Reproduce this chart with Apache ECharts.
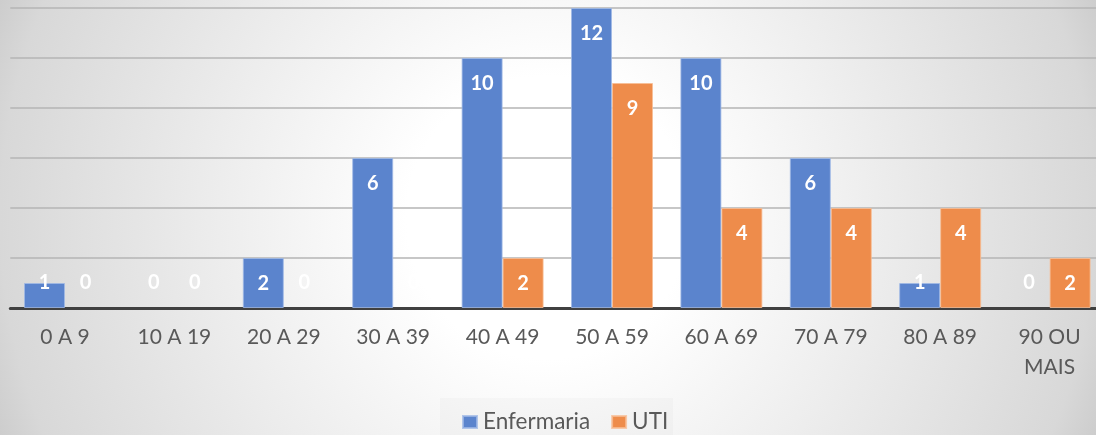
<!DOCTYPE html>
<html>
<head>
<meta charset="utf-8">
<script src="https://cdn.jsdelivr.net/npm/echarts@6/dist/echarts.min.js"></script>
<style>
html,body{margin:0;padding:0;}
#chart{width:1096px;height:435px;background:radial-gradient(circle 589px at 50% 50%, #ffffff 0%, #ffffff 24%, #d8d8d8 93%, #cdcdcd 100%);}
</style>
</head>
<body>
<div id="chart"></div>
<script>
const categories = ['0 A 9','10 A 19','20 A 29','30 A 39','40 A 49','50 A 59','60 A 69','70 A 79','80 A 89','90 OU\nMAIS'];
const enfermaria = [1,0,2,6,10,12,10,6,1,0];
const uti = [0,0,0,0,2,9,4,4,4,2];
const seriesNames = ['Enfermaria','UTI'];

function toItems(arr){
  return arr.map(v => ({
    value: v,
    itemStyle: v === 0 ? {borderWidth:0, color:'rgba(0,0,0,0)', borderColor:'rgba(0,0,0,0)'} : undefined,
    label: v >= 2 ? {position:'insideTop', distance:16} : {position:'insideBottom', distance:15}
  }));
}

const chart = echarts.init(document.getElementById('chart'), null, {renderer:'canvas'});
const labelStyle = {show:true, color:'#ffffff', fontFamily:'Lato', fontWeight:'bold', fontSize:20, lineHeight:20};
chart.setOption({
  backgroundColor:'transparent',
  animation:false,
  grid:{left:10.3, width:1094, top:8, bottom:127, containLabel:false, outerBoundsMode:'none'},
  graphic:[{type:'rect', left:440, top:398, shape:{width:233, height:40}, style:{fill:'rgba(0,0,0,0.02)'}, z:-1}],
  legend:{
    data:seriesNames, left:462, top:410, itemWidth:14, itemHeight:12, itemGap:21, padding:0,
    icon:'rect',
    textStyle:{fontFamily:'Lato', fontSize:22.5, color:'#595959', lineHeight:24, padding:[0,0,0,1]}
  },
  xAxis:{
    type:'category', data:categories,
    axisLine:{lineStyle:{color:'#404040', width:3}},
    axisTick:{show:false},
    axisLabel:{fontFamily:'Lato', fontSize:21, color:'#595959', lineHeight:30, margin:14, interval:0}
  },
  yAxis:{
    type:'value', min:0, max:12, interval:2,
    axisLabel:{show:false}, axisLine:{show:false}, axisTick:{show:false},
    splitLine:{lineStyle:{color:'#b4b4b4', width:1.5}}
  },
  series:[
    {name:seriesNames[0], type:'bar', data:toItems(enfermaria), barWidth:41, barGap:'0%',
     itemStyle:{color:'#5b84cd', borderColor:'rgba(160,185,230,0.8)', borderWidth:1}, label:labelStyle},
    {name:seriesNames[1], type:'bar', data:toItems(uti), barWidth:41, barGap:'0%',
     itemStyle:{color:'#ee8c4b', borderColor:'rgba(248,190,150,0.8)', borderWidth:1}, label:labelStyle}
  ]
});
</script>
</body>
</html>
